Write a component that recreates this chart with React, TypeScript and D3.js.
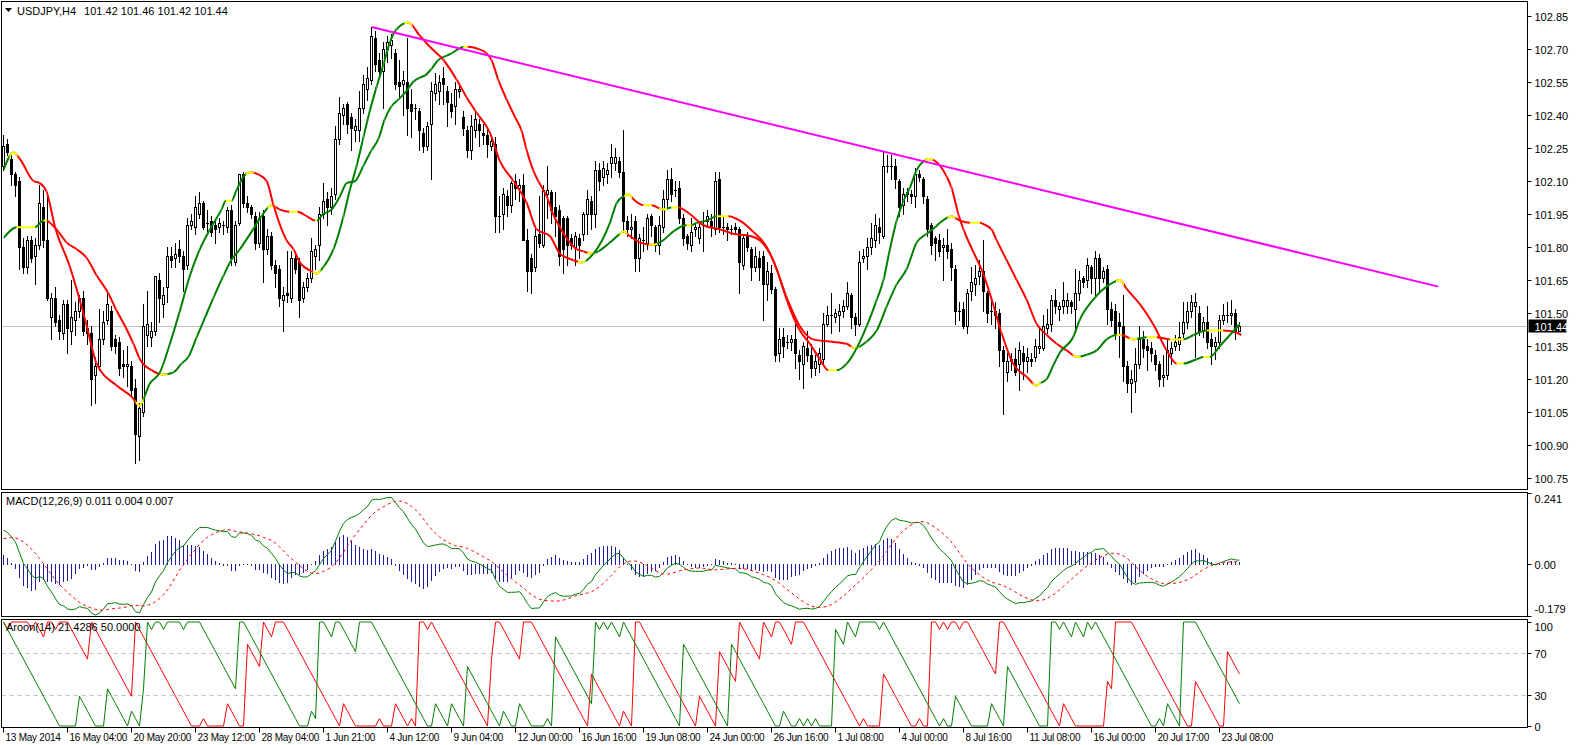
import * as d3 from 'd3'

// values
const symbol = 'USDJPY,H4'
const lastQuote = '101.42 101.46 101.42 101.44'
const lastPrice = 101.44
const macdTitle = 'MACD(12,26,9) 0.011 0.004 0.007'
const aroonTitle = 'Aroon(14) 21.4286 50.0000'

const priceTicks = ['102.85', '102.70', '102.55', '102.40', '102.25', '102.10', '101.95', '101.80', '101.65', '101.50', '101.35', '101.20', '101.05', '100.90', '100.75']
const macdTicks = ['0.241', '0.00', '-0.179']
const aroonTicks = [100, 70, 30, 0]
const aroonLevels = [70, 30]

const timeLabels = ['13 May 2014', '16 May 04:00', '20 May 20:00', '23 May 12:00', '28 May 04:00', '1 Jun 21:00', '4 Jun 12:00', '9 Jun 04:00', '12 Jun 00:00', '16 Jun 16:00', '19 Jun 08:00', '24 Jun 00:00', '26 Jun 16:00', '1 Jul 08:00', '4 Jul 00:00', '8 Jul 16:00', '11 Jul 08:00', '16 Jul 00:00', '20 Jul 17:00', '23 Jul 08:00']
const barsPerLabel = 16

// open, high, low, close
const bars: [number, number, number, number][] = [
  [102.17, 102.31, 102.15, 102.26], [102.27, 102.29, 102.22, 102.23], [102.20, 102.22, 102.08, 102.13], [102.13, 102.14, 102.03, 102.08],
  [102.10, 102.12, 101.70, 101.80], [101.80, 101.84, 101.68, 101.71], [101.71, 101.85, 101.68, 101.83], [101.83, 101.85, 101.73, 101.75],
  [101.76, 101.84, 101.63, 101.81], [101.81, 102.08, 101.79, 102.00], [101.98, 102.06, 101.80, 101.83], [101.83, 102.03, 101.56, 101.57],
  [101.48, 101.59, 101.38, 101.57], [101.57, 101.62, 101.44, 101.46], [101.47, 101.49, 101.38, 101.42], [101.41, 101.56, 101.38, 101.54],
  [101.54, 101.56, 101.32, 101.43], [101.42, 101.65, 101.36, 101.48], [101.47, 101.55, 101.40, 101.51], [101.51, 101.58, 101.48, 101.57],
  [101.57, 101.60, 101.40, 101.42], [101.43, 101.47, 101.36, 101.41], [101.41, 101.44, 101.08, 101.20], [101.22, 101.30, 101.09, 101.26],
  [101.26, 101.52, 101.24, 101.38], [101.38, 101.51, 101.36, 101.46], [101.47, 101.59, 101.45, 101.54], [101.51, 101.53, 101.33, 101.35],
  [101.38, 101.40, 101.32, 101.35], [101.37, 101.39, 101.22, 101.25], [101.27, 101.33, 101.21, 101.26], [101.26, 101.35, 101.17, 101.27],
  [101.26, 101.28, 101.12, 101.15], [101.16, 101.20, 100.82, 100.95], [100.94, 101.09, 100.83, 101.07], [101.05, 101.54, 101.03, 101.44],
  [101.40, 101.60, 101.35, 101.45], [101.39, 101.46, 101.35, 101.42], [101.42, 101.67, 101.40, 101.67], [101.65, 101.68, 101.46, 101.57],
  [101.54, 101.62, 101.48, 101.58], [101.62, 101.80, 101.55, 101.76], [101.76, 101.80, 101.71, 101.74], [101.75, 101.82, 101.71, 101.77],
  [101.79, 101.83, 101.73, 101.76], [101.76, 101.78, 101.60, 101.70], [101.72, 101.93, 101.70, 101.90], [101.90, 101.95, 101.88, 101.92],
  [101.89, 102.03, 101.86, 101.98], [101.95, 102.05, 101.93, 102.00], [102.00, 102.01, 101.88, 101.89], [101.91, 101.97, 101.87, 101.91],
  [101.92, 101.94, 101.85, 101.87], [101.90, 101.92, 101.82, 101.88], [101.89, 101.93, 101.87, 101.91], [101.90, 101.92, 101.86, 101.90],
  [101.89, 101.98, 101.87, 101.97], [101.97, 101.99, 101.72, 101.75], [101.73, 101.92, 101.72, 101.90], [101.91, 102.13, 101.90, 102.13],
  [102.13, 102.14, 101.98, 102.00], [102.00, 102.03, 101.96, 101.98], [101.98, 101.99, 101.93, 101.95], [101.94, 101.96, 101.79, 101.82],
  [101.82, 101.96, 101.80, 101.93], [101.94, 101.97, 101.64, 101.79], [101.79, 101.88, 101.77, 101.85], [101.85, 101.87, 101.70, 101.72],
  [101.72, 101.74, 101.62, 101.68], [101.70, 101.72, 101.53, 101.57], [101.56, 101.62, 101.42, 101.58], [101.59, 101.78, 101.55, 101.58],
  [101.57, 101.78, 101.55, 101.75], [101.75, 101.77, 101.68, 101.70], [101.73, 101.75, 101.48, 101.56], [101.57, 101.64, 101.55, 101.62],
  [101.62, 101.68, 101.60, 101.66], [101.66, 101.84, 101.64, 101.78], [101.76, 101.81, 101.70, 101.79], [101.81, 101.98, 101.74, 101.95],
  [101.95, 102.09, 101.93, 102.01], [102.02, 102.05, 101.90, 101.98], [101.98, 102.07, 101.95, 102.03], [102.04, 102.35, 102.02, 102.29],
  [102.29, 102.48, 102.27, 102.41], [102.40, 102.45, 102.36, 102.43], [102.45, 102.46, 102.32, 102.36], [102.39, 102.41, 102.24, 102.34],
  [102.33, 102.38, 102.28, 102.35], [102.33, 102.51, 102.28, 102.43], [102.43, 102.58, 102.41, 102.54], [102.52, 102.62, 102.47, 102.57],
  [102.56, 102.80, 102.54, 102.76], [102.75, 102.78, 102.60, 102.63], [102.65, 102.68, 102.57, 102.60], [102.60, 102.73, 102.43, 102.70],
  [102.70, 102.76, 102.64, 102.73], [102.72, 102.77, 102.66, 102.74], [102.68, 102.70, 102.52, 102.54], [102.55, 102.65, 102.48, 102.53],
  [102.54, 102.60, 102.40, 102.56], [102.55, 102.75, 102.31, 102.43], [102.45, 102.52, 102.30, 102.42], [102.43, 102.45, 102.38, 102.43],
  [102.42, 102.43, 102.24, 102.33], [102.32, 102.34, 102.23, 102.26], [102.26, 102.37, 102.24, 102.35], [102.36, 102.55, 102.11, 102.51],
  [102.50, 102.59, 102.47, 102.54], [102.51, 102.58, 102.45, 102.55], [102.57, 102.62, 102.45, 102.54], [102.51, 102.53, 102.35, 102.46],
  [102.45, 102.50, 102.39, 102.42], [102.44, 102.55, 102.36, 102.52], [102.51, 102.54, 102.48, 102.52], [102.39, 102.42, 102.31, 102.34],
  [102.33, 102.35, 102.21, 102.24], [102.24, 102.40, 102.20, 102.35], [102.33, 102.42, 102.30, 102.38], [102.36, 102.38, 102.26, 102.33],
  [102.32, 102.36, 102.27, 102.31], [102.31, 102.33, 102.21, 102.27], [102.26, 102.30, 102.24, 102.28], [102.27, 102.30, 101.87, 101.94],
  [101.94, 102.03, 101.87, 101.94], [101.95, 102.07, 101.88, 102.04], [102.03, 102.06, 101.94, 101.99], [101.99, 102.10, 101.96, 102.09],
  [102.10, 102.13, 102.02, 102.07], [102.07, 102.11, 102.01, 102.08], [102.08, 102.13, 101.83, 101.83], [101.83, 101.88, 101.60, 101.69],
  [101.75, 101.77, 101.59, 101.69], [101.71, 101.88, 101.69, 101.85], [101.86, 102.03, 101.80, 101.82], [101.81, 102.08, 101.80, 102.06],
  [102.04, 102.17, 101.93, 102.06], [102.05, 102.06, 101.91, 101.97], [101.98, 102.05, 101.85, 101.94], [101.97, 101.99, 101.72, 101.76],
  [101.93, 101.94, 101.68, 101.79], [101.93, 101.94, 101.72, 101.81], [101.84, 101.86, 101.79, 101.81], [101.80, 101.87, 101.72, 101.85],
  [101.84, 101.86, 101.75, 101.81], [101.86, 101.96, 101.83, 101.95], [101.95, 102.06, 101.86, 102.02], [102.01, 102.03, 101.88, 101.95],
  [101.95, 102.19, 101.89, 102.15], [102.15, 102.18, 102.06, 102.10], [102.12, 102.19, 102.08, 102.16], [102.13, 102.18, 102.09, 102.15],
  [102.18, 102.27, 102.12, 102.21], [102.18, 102.25, 102.15, 102.21], [102.19, 102.21, 102.12, 102.14], [102.14, 102.33, 101.87, 101.92],
  [101.92, 101.94, 101.85, 101.88], [101.88, 101.95, 101.84, 101.89], [101.92, 101.94, 101.69, 101.75], [101.75, 101.86, 101.69, 101.84],
  [101.83, 101.89, 101.78, 101.83], [101.82, 101.95, 101.79, 101.93], [101.94, 101.95, 101.85, 101.90], [101.89, 101.90, 101.78, 101.81],
  [101.81, 101.94, 101.77, 101.90], [101.89, 102.06, 101.87, 102.02], [102.02, 102.15, 101.98, 102.11], [102.11, 102.16, 102.01, 102.04],
  [102.06, 102.10, 102.03, 102.06], [102.07, 102.10, 101.91, 101.93], [101.93, 101.95, 101.81, 101.84], [101.85, 101.86, 101.79, 101.82],
  [101.81, 101.93, 101.78, 101.87], [101.88, 101.91, 101.85, 101.89], [101.84, 101.92, 101.82, 101.89], [101.90, 101.96, 101.78, 101.90],
  [101.92, 101.97, 101.89, 101.94], [101.92, 101.95, 101.85, 101.89], [101.88, 102.14, 101.86, 102.10], [102.11, 102.14, 101.87, 101.89],
  [101.89, 101.94, 101.86, 101.89], [101.89, 101.91, 101.83, 101.88], [101.88, 101.90, 101.86, 101.88], [101.89, 101.91, 101.86, 101.88],
  [101.88, 101.89, 101.59, 101.73], [101.72, 101.86, 101.70, 101.84], [101.85, 101.87, 101.78, 101.80], [101.79, 101.80, 101.65, 101.71],
  [101.71, 101.80, 101.69, 101.76], [101.75, 101.78, 101.65, 101.71], [101.76, 101.78, 101.47, 101.63], [101.63, 101.73, 101.56, 101.69],
  [101.68, 101.72, 101.59, 101.61], [101.61, 101.62, 101.28, 101.31], [101.32, 101.43, 101.28, 101.38], [101.39, 101.43, 101.30, 101.35],
  [101.37, 101.40, 101.34, 101.37], [101.37, 101.40, 101.33, 101.38], [101.38, 101.45, 101.25, 101.32], [101.31, 101.33, 101.20, 101.28],
  [101.27, 101.37, 101.16, 101.35], [101.34, 101.42, 101.28, 101.31], [101.31, 101.36, 101.21, 101.25], [101.25, 101.31, 101.22, 101.28],
  [101.27, 101.34, 101.23, 101.32], [101.29, 101.50, 101.27, 101.45], [101.45, 101.53, 101.44, 101.49], [101.49, 101.59, 101.41, 101.49],
  [101.48, 101.52, 101.46, 101.50], [101.49, 101.54, 101.42, 101.51], [101.51, 101.56, 101.48, 101.53], [101.53, 101.64, 101.52, 101.59],
  [101.58, 101.59, 101.43, 101.48], [101.48, 101.50, 101.40, 101.45], [101.45, 101.78, 101.44, 101.73], [101.75, 101.79, 101.73, 101.76],
  [101.76, 101.84, 101.70, 101.80], [101.80, 101.91, 101.77, 101.84], [101.83, 101.95, 101.80, 101.90], [101.89, 101.93, 101.82, 101.87],
  [101.85, 102.23, 101.84, 102.17], [102.17, 102.22, 102.14, 102.17], [102.17, 102.22, 102.11, 102.17], [102.17, 102.20, 102.07, 102.11],
  [102.10, 102.11, 101.94, 101.98], [101.99, 102.07, 101.95, 102.04], [102.04, 102.07, 102.01, 102.05], [102.04, 102.06, 102.00, 102.03],
  [102.03, 102.16, 101.98, 102.13], [102.13, 102.15, 102.10, 102.12], [102.11, 102.12, 102.00, 102.03], [102.02, 102.03, 101.85, 101.88],
  [101.90, 101.91, 101.77, 101.81], [101.84, 101.85, 101.74, 101.82], [101.83, 101.86, 101.76, 101.78], [101.80, 101.84, 101.65, 101.81],
  [101.81, 101.88, 101.75, 101.78], [101.79, 101.82, 101.65, 101.71], [101.70, 101.72, 101.45, 101.51], [101.51, 101.55, 101.47, 101.51],
  [101.52, 101.55, 101.43, 101.44], [101.44, 101.61, 101.41, 101.59], [101.60, 101.71, 101.56, 101.64], [101.63, 101.72, 101.58, 101.66],
  [101.67, 101.74, 101.63, 101.69], [101.69, 101.83, 101.51, 101.60], [101.59, 101.60, 101.46, 101.50], [101.51, 101.56, 101.45, 101.51],
  [101.51, 101.55, 101.43, 101.49], [101.50, 101.52, 101.26, 101.33], [101.33, 101.35, 101.04, 101.28], [101.23, 101.32, 101.19, 101.28],
  [101.29, 101.32, 101.24, 101.28], [101.29, 101.34, 101.22, 101.23], [101.27, 101.37, 101.15, 101.33], [101.32, 101.35, 101.20, 101.28],
  [101.28, 101.34, 101.23, 101.30], [101.29, 101.32, 101.26, 101.28], [101.30, 101.38, 101.28, 101.35], [101.34, 101.43, 101.32, 101.35],
  [101.34, 101.49, 101.33, 101.44], [101.43, 101.52, 101.41, 101.45], [101.45, 101.58, 101.42, 101.56], [101.56, 101.61, 101.50, 101.53],
  [101.52, 101.55, 101.47, 101.53], [101.53, 101.64, 101.50, 101.56], [101.53, 101.59, 101.50, 101.56], [101.55, 101.56, 101.50, 101.53],
  [101.52, 101.70, 101.42, 101.59], [101.59, 101.69, 101.56, 101.65], [101.66, 101.67, 101.62, 101.64], [101.65, 101.75, 101.62, 101.72],
  [101.71, 101.72, 101.59, 101.66], [101.66, 101.78, 101.58, 101.75], [101.75, 101.77, 101.59, 101.66], [101.66, 101.71, 101.64, 101.69],
  [101.70, 101.72, 101.45, 101.52], [101.52, 101.55, 101.44, 101.47], [101.51, 101.54, 101.38, 101.41], [101.46, 101.50, 101.30, 101.44],
  [101.44, 101.58, 101.19, 101.26], [101.26, 101.28, 101.14, 101.18], [101.18, 101.24, 101.05, 101.20], [101.19, 101.34, 101.14, 101.27],
  [101.27, 101.44, 101.25, 101.38], [101.38, 101.42, 101.30, 101.34], [101.35, 101.38, 101.24, 101.33], [101.34, 101.37, 101.28, 101.32],
  [101.31, 101.33, 101.24, 101.27], [101.27, 101.28, 101.17, 101.20], [101.21, 101.31, 101.17, 101.22], [101.22, 101.38, 101.20, 101.33],
  [101.32, 101.37, 101.27, 101.34], [101.35, 101.40, 101.33, 101.37], [101.36, 101.46, 101.33, 101.39], [101.41, 101.55, 101.39, 101.46],
  [101.46, 101.55, 101.43, 101.51], [101.51, 101.58, 101.48, 101.55], [101.53, 101.59, 101.30, 101.55], [101.50, 101.53, 101.40, 101.42],
  [101.42, 101.48, 101.39, 101.46], [101.46, 101.53, 101.34, 101.37], [101.38, 101.41, 101.27, 101.35], [101.35, 101.39, 101.29, 101.37],
  [101.37, 101.49, 101.34, 101.47], [101.47, 101.54, 101.45, 101.49], [101.49, 101.55, 101.46, 101.49], [101.49, 101.56, 101.45, 101.50],
  [101.50, 101.52, 101.38, 101.42], [101.42, 101.46, 101.42, 101.44],
]

// the two slope-coloured averages, [bar, price]
const fastLine: [number, number][] = [
  [0, 102.15], [2.5, 102.23], [4.1, 102.20], [7.5, 102.10], [9.1, 102.09], [10.8, 102.05], [12.9, 101.89], [16.6, 101.71],
  [20.4, 101.47], [23.3, 101.27], [28.3, 101.17], [32, 101.12], [34, 101.08], [36.6, 101.18], [39.1, 101.23], [41.6, 101.36],
  [44.1, 101.51], [46.6, 101.67], [49.1, 101.79], [51.6, 101.88], [54.5, 101.97], [55.6, 102.01], [57, 102.01], [58.3, 102.06],
  [60, 102.12], [61.6, 102.14], [63.7, 102.13], [65.8, 102.10], [67.5, 101.99], [70.8, 101.83], [72.5, 101.79], [74.1, 101.73],
  [77, 101.69], [78.3, 101.68], [80, 101.71], [82.5, 101.79], [85, 101.94], [86.6, 102.06], [88.3, 102.17], [90, 102.30],
  [91.6, 102.42], [93.3, 102.53], [95, 102.63], [96.6, 102.73], [98.3, 102.79], [101.2, 102.82], [104.1, 102.76], [106.6, 102.71],
  [110, 102.65], [113.3, 102.56], [115.8, 102.48], [118.3, 102.41], [121.6, 102.32], [124.1, 102.19], [127.5, 102.10], [130.8, 102.00],
  [133.3, 101.88], [136.6, 101.85], [139.1, 101.77], [142.5, 101.74], [144.6, 101.73], [147.5, 101.77], [151.6, 101.91], [153.3, 102.00],
  [155, 102.03], [156.2, 102.04], [157.9, 102.01], [160, 101.99], [162, 101.99], [164.9, 101.97], [167, 101.98], [168.7, 101.98],
  [171.6, 101.95], [174.9, 101.90], [179.1, 101.88], [182.4, 101.86], [186.6, 101.85], [189.1, 101.83], [191.6, 101.77], [193.3, 101.70],
  [195.8, 101.56], [199.1, 101.42], [201.6, 101.36], [204.1, 101.29], [206.2, 101.24], [208.3, 101.24], [210.8, 101.27], [213.3, 101.34],
  [215.8, 101.44], [218.3, 101.56], [220, 101.65], [221.6, 101.79], [223.3, 101.92], [225, 102.01], [226.6, 102.07], [228.3, 102.15],
  [230, 102.19], [231.4, 102.20], [234.1, 102.17], [235.8, 102.12], [237, 102.07], [238.7, 101.95], [240, 101.88], [242.4, 101.78],
  [244.9, 101.68], [247.4, 101.54], [249.5, 101.41], [252.4, 101.27], [255.8, 101.21], [258.3, 101.17], [259.1, 101.18], [260.8, 101.20],
  [262.4, 101.26], [264.1, 101.32], [267.4, 101.39], [269.1, 101.47], [272.4, 101.56], [276.6, 101.63], [279.1, 101.65], [280.8, 101.61],
  [284.1, 101.54], [287.4, 101.45], [290.8, 101.33], [293.3, 101.27], [295, 101.27], [298.3, 101.29], [300, 101.30], [301.6, 101.30],
  [304.1, 101.35], [306.6, 101.40], [309.1, 101.45],
]
const slowLine: [number, number][] = [
  [0, 101.84], [3.3, 101.89], [7.9, 101.89], [10, 101.92], [10.8, 101.92], [11.6, 101.91], [13.7, 101.87], [15.8, 101.82],
  [18.3, 101.79], [20.8, 101.75], [23.3, 101.67], [26.2, 101.59], [28.3, 101.51], [30.4, 101.44], [32.5, 101.36], [34.1, 101.29],
  [37, 101.24], [40, 101.22], [42.5, 101.23], [44.5, 101.27], [46.2, 101.30], [48.3, 101.39], [50.4, 101.48], [52.5, 101.57],
  [55, 101.67], [56.6, 101.73], [59.1, 101.79], [62.4, 101.88], [64.5, 101.94], [67, 101.99], [69.1, 101.97], [71.5, 101.96],
  [73.5, 101.96], [75.8, 101.94], [77.9, 101.92], [78.3, 101.92], [79.9, 101.95], [82, 101.97], [84.1, 102.03], [85.8, 102.09],
  [87.9, 102.10], [90, 102.17], [92, 102.24], [93.7, 102.29], [95.3, 102.38], [97, 102.44], [98.7, 102.47], [100.8, 102.51],
  [102.4, 102.55], [104.1, 102.57], [105.4, 102.58], [107, 102.61], [108.7, 102.65], [110.8, 102.67], [112, 102.68], [113.7, 102.70],
  [115, 102.71], [116, 102.71], [118.7, 102.70], [120.8, 102.68], [122, 102.65], [123.7, 102.56], [125.8, 102.47], [127.9, 102.39],
  [129.5, 102.33], [130.8, 102.24], [132.4, 102.15], [133.7, 102.10], [135.8, 102.03], [137.4, 101.95], [139.1, 101.89], [141.2, 101.83],
  [143.3, 101.79], [145, 101.78], [147, 101.77], [148.7, 101.78], [151.6, 101.82], [154.1, 101.86], [155, 101.87], [156.6, 101.85],
  [159.1, 101.82], [162.4, 101.81], [164.9, 101.83], [167.4, 101.87], [170.8, 101.90], [172, 101.90], [173.3, 101.91], [175.8, 101.92],
  [178.3, 101.94], [181.2, 101.94], [184.1, 101.92], [187.4, 101.87], [190.8, 101.80], [192.4, 101.74], [195.8, 101.57], [199.1, 101.44],
  [202.4, 101.38], [206.6, 101.37], [210.8, 101.36], [212.9, 101.34], [215.8, 101.37], [218.3, 101.42], [220.8, 101.53], [223.3, 101.63],
  [225.8, 101.70], [228.3, 101.82], [230.8, 101.86], [232.9, 101.89], [234.1, 101.91], [237, 101.94], [239.1, 101.92], [241.6, 101.91],
  [243, 101.91], [244.1, 101.91], [245.4, 101.90], [247, 101.88], [248.3, 101.83], [250.8, 101.74], [253.3, 101.65], [255.8, 101.56],
  [258.3, 101.45], [260.8, 101.40], [263.3, 101.36], [265.8, 101.33], [268.3, 101.30], [270.8, 101.31], [273.3, 101.33], [275.8, 101.38],
  [278.3, 101.40], [279.5, 101.40], [282.4, 101.38], [285.8, 101.39], [288.3, 101.39], [291.6, 101.38], [295, 101.38], [297.5, 101.40],
  [300.8, 101.42], [302.5, 101.42], [304.9, 101.42], [308.3, 101.41], [309.5, 101.40],
]

// hand-drawn resistance line, [bar, price]
const trendLine: [number, number][] = [[92, 102.80], [358.7, 101.62]]

// indicator state before the first visible bar
const emaFastSeed = 102.22
const emaSlowSeed = 102.10
const signalSeed = 0.081
const aroonPeriod = 14

const W = 1596
const H = 745
const left = 1.5
const right = 1527.5
const mainPane = { top: 1.5, bottom: 489.5 }
const macdPane = { top: 492.5, bottom: 616.5 }
const aroonPane = { top: 619.5, bottom: 727.5 }
const font = "'Liberation Sans', Arial, sans-serif"

const GREEN = '#008000'
const RED = '#ff0000'
const YELLOW = '#ffff00'

function spans(pts: [number, number][]) {
  const out = { up: [] as number[][], down: [] as number[][], flat: [] as number[][] }
  for (let k = 0; k < pts.length - 1; k++) {
    const dv = Math.round((pts[k + 1][1] - pts[k][1]) * 1000)
    const kind = dv > 0 ? 'up' : dv < 0 ? 'down' : 'flat'
    out[kind].push([pts[k][0], pts[k + 1][0]])
  }
  for (let k = 1; k < pts.length - 1; k++) {
    const a = Math.sign(Math.round((pts[k][1] - pts[k - 1][1]) * 1000))
    const b = Math.sign(Math.round((pts[k + 1][1] - pts[k][1]) * 1000))
    if (a !== 0 && b !== 0 && a !== b) out.flat.push([pts[k][0] - 1, pts[k][0] + 1])
  }
  return out
}

export default function App() {
  const x = d3.scaleLinear().domain([0, 1]).range([3, 7])
  const yP = d3.scaleLinear().domain([100.75, 102.85]).range([478, 16])
  const yM = d3.scaleLinear().domain([-0.179, 0.241]).range([macdPane.bottom - 0.5, macdPane.top + 0.5])
  const yA = d3.scaleLinear().domain([0, 100]).range([726, 622])

  // MACD
  const closes = bars.map((b) => b[3])
  let e12 = emaFastSeed
  let e26 = emaSlowSeed
  const macd = closes.map((c) => {
    e12 += ((c - e12) * 2) / 13
    e26 += ((c - e26) * 2) / 27
    return e12 - e26
  })
  const padded = Array(8).fill(signalSeed).concat(macd)
  const signal = macd.map((_, i) => d3.mean(padded.slice(i, i + 9)) as number)
  const osma = macd.map((m, i) => m - signal[i])

  // Aroon
  const aroonUp = bars.map((_, i) => {
    const from = Math.max(0, i - aroonPeriod)
    let hi = from
    for (let j = from; j <= i; j++) if (bars[j][1] >= bars[hi][1]) hi = j
    return (100 * (aroonPeriod - (i - hi))) / aroonPeriod
  })
  const aroonDown = bars.map((_, i) => {
    const from = Math.max(0, i - aroonPeriod)
    let lo = from
    for (let j = from; j <= i; j++) if (bars[j][2] <= bars[lo][2]) lo = j
    return (100 * (aroonPeriod - (i - lo))) / aroonPeriod
  })

  const maLine = d3
    .line<[number, number]>()
    .x((d) => x(d[0]) + 0.5)
    .y((d) => yP(d[1]))
    .curve(d3.curveMonotoneX)
  const idxLine = (y: (v: number) => number) =>
    d3
      .line<number>()
      .x((_, i) => x(i) + 0.5)
      .y((d) => y(d))

  const colored = (name: string, pts: [number, number][]) => {
    const s = spans(pts)
    const clips = [
      ['up', GREEN],
      ['down', RED],
      ['flat', YELLOW],
    ] as const
    return (
      <g key={name}>
        <defs>
          {clips.map(([k]) => (
            <clipPath id={`${name}-${k}`} key={k}>
              {s[k].map(([a, b], i) => (
                <rect key={i} x={x(a) + 0.5} y={0} width={Math.max(0, x(b) - x(a))} height={mainPane.bottom} />
              ))}
            </clipPath>
          ))}
        </defs>
        {clips.map(([k, col]) => (
          <path key={k} d={maLine(pts) ?? ''} fill="none" stroke={col} strokeWidth={2} clipPath={`url(#${name}-${k})`} />
        ))}
      </g>
    )
  }

  const yLast = Math.round(yP(lastPrice)) + 0.5

  return (
    <svg
      width={W}
      height={H}
      style={{ position: 'absolute', left: 0, top: 0, background: '#fff' }}
      fontFamily={font}
      fontSize={11}
    >
      <rect width={W} height={H} fill="#fff" />

      {/* main pane */}
      <line x1={left} x2={right} y1={yLast} y2={yLast} stroke="#c0c0c0" />
      <g shapeRendering="crispEdges">
        {bars.map(([o, h, l, c], i) => {
          const cx = Math.round(x(i))
          const top = Math.round(yP(Math.max(o, c)))
          const bot = Math.round(yP(Math.min(o, c)))
          const hgt = bot - top
          return (
            <g key={i}>
              <line x1={cx + 0.5} x2={cx + 0.5} y1={Math.round(yP(h))} y2={Math.round(yP(l)) + 1} stroke="#000" />
              {hgt < 1 ? (
                <rect x={cx - 1} y={top} width={3} height={1} fill="#000" />
              ) : c >= o ? (
                <rect x={cx - 0.5} y={top + 0.5} width={2} height={hgt} fill="#fff" stroke="#000" />
              ) : (
                <rect x={cx - 1} y={top} width={3} height={hgt + 1} fill="#000" />
              )}
            </g>
          )
        })}
      </g>
      {colored('slow', slowLine)}
      {colored('fast', fastLine)}
      <line
        x1={x(trendLine[0][0]) + 0.5}
        y1={yP(trendLine[0][1])}
        x2={x(trendLine[1][0]) + 0.5}
        y2={yP(trendLine[1][1])}
        stroke="#ff00ff"
        strokeWidth={2}
      />

      {/* title */}
      <path d="M5,8 L12,8 L8.5,12 Z" fill="#000" />
      <text x={17} y={15} fill="#000">
        {symbol}
        <tspan dx={8}>{lastQuote}</tspan>
      </text>

      {/* MACD pane */}
      <g shapeRendering="crispEdges">
        {osma.map((v, i) => {
          const y0 = Math.round(yM(0))
          const y1 = Math.round(yM(v))
          return (
            <line key={i} x1={x(i) + 0.5} x2={x(i) + 0.5} y1={Math.min(y0, y1)} y2={Math.max(y0, y1) + 1} stroke="#1c1c9c" />
          )
        })}
      </g>
      <path d={idxLine(yM)(macd) ?? ''} fill="none" stroke={GREEN} strokeWidth={1} />
      <path d={idxLine(yM)(signal) ?? ''} fill="none" stroke={RED} strokeWidth={1} strokeDasharray="3,3" />
      <text x={6} y={505} fill="#000">
        {macdTitle}
      </text>

      {/* Aroon pane */}
      {aroonLevels.map((v) => (
        <line key={v} x1={left} x2={right} y1={Math.round(yA(v)) + 0.5} y2={Math.round(yA(v)) + 0.5} stroke="#c0c0c0" strokeDasharray="4,4" />
      ))}
      <path d={idxLine(yA)(aroonDown) ?? ''} fill="none" stroke={RED} strokeWidth={1} />
      <path d={idxLine(yA)(aroonUp) ?? ''} fill="none" stroke={GREEN} strokeWidth={1} />
      <text x={6} y={631} fill="#000">
        {aroonTitle}
      </text>

      {/* pane frames */}
      <g fill="none" stroke="#000" shapeRendering="crispEdges">
        <rect x={left} y={mainPane.top} width={right - left} height={mainPane.bottom - mainPane.top} />
        <rect x={left} y={macdPane.top} width={right - left} height={macdPane.bottom - macdPane.top} />
        <rect x={left} y={aroonPane.top} width={right - left} height={aroonPane.bottom - aroonPane.top} />
      </g>

      {/* price scale */}
      {priceTicks.map((t) => {
        const y = Math.round(yP(+t)) + 0.5
        return (
          <g key={t}>
            <line x1={right} x2={right + 4} y1={y} y2={y} stroke="#000" />
            <text x={right + 7} y={y + 4} fill="#000">
              {t}
            </text>
          </g>
        )
      })}
      <rect x={right + 1} y={yLast - 7} width={38} height={13} fill="#000" />
      <text x={right + 7} y={yLast + 4} fill="#fff">
        {lastPrice.toFixed(2)}
      </text>

      {/* MACD scale */}
      {macdTicks.map((t, i) => {
        const v = +t
        const yt = Math.round(yM(v)) + 0.5
        const ty = i === 0 ? yt + 9 : i === 2 ? yt - 4 : yt + 4
        return (
          <g key={t}>
            <line x1={right} x2={right + 4} y1={yt} y2={yt} stroke="#000" />
            <text x={right + 7} y={ty} fill="#000">
              {t}
            </text>
          </g>
        )
      })}

      {/* Aroon scale */}
      {aroonTicks.map((v) => {
        const yt = Math.round(yA(v)) + 0.5
        return (
          <g key={v}>
            <line x1={right} x2={right + 4} y1={yt} y2={yt} stroke="#000" />
            <text x={right + 7} y={v === 100 ? yt + 8 : yt + 4} fill="#000">
              {v}
            </text>
          </g>
        )
      })}

      {/* time scale */}
      {timeLabels.map((t, i) => {
        const tx = Math.round(x(i * barsPerLabel)) + 0.5
        return (
          <g key={t}>
            <line x1={tx} x2={tx} y1={aroonPane.bottom} y2={aroonPane.bottom + 5} stroke="#000" />
            <text x={tx + 2} y={741} fill="#000" fontSize={10} letterSpacing={-0.25}>
              {t}
            </text>
          </g>
        )
      })}
    </svg>
  )
}
